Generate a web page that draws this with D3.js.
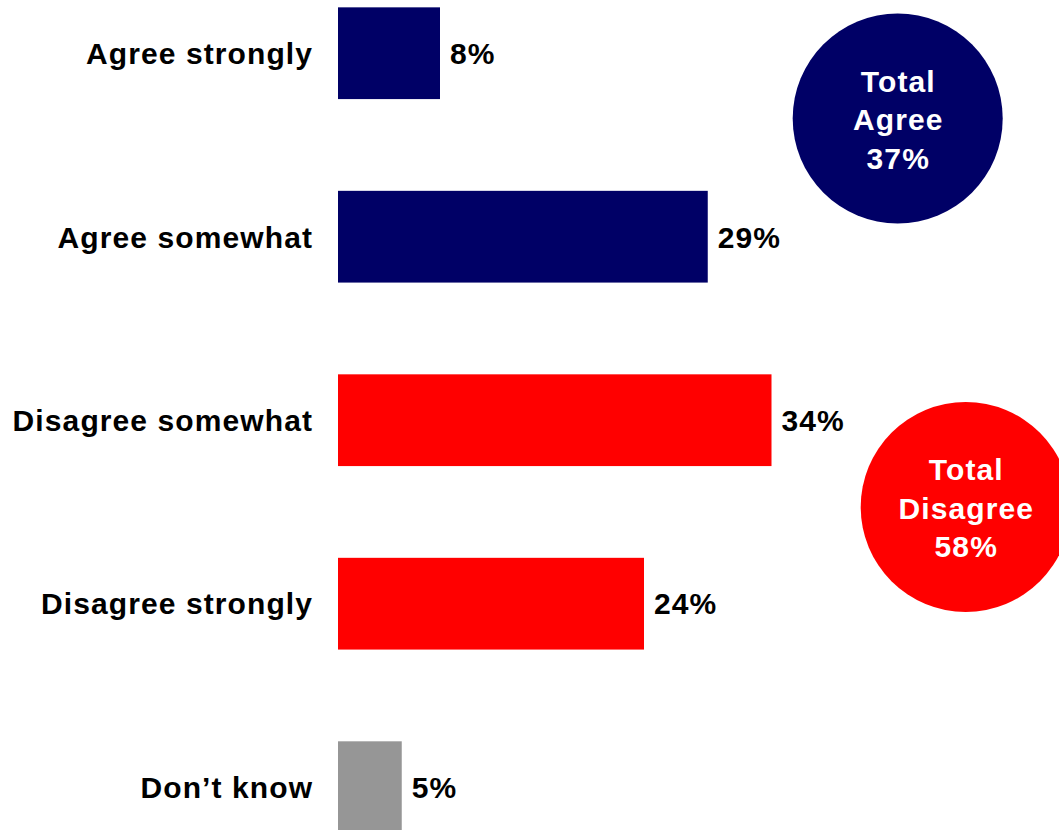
<!DOCTYPE html>
<html>
<head>
<meta charset="utf-8">
<script src="https://cdn.jsdelivr.net/npm/d3@7"></script>
<style>
  html, body { margin: 0; padding: 0; background: #ffffff; }
  svg { display: block; }
  text { font-family: "Liberation Sans", Arial, sans-serif; font-weight: bold; }
</style>
</head>
<body>
<script>
// ---- data ----
const categories = ["Agree strongly", "Agree somewhat", "Disagree somewhat", "Disagree strongly", "Don\u2019t know"];
const values = [8, 29, 34, 24, 5];
const groups = ["agree", "agree", "disagree", "disagree", "dontknow"];
const totalLabels = [["Total", "Agree"], ["Total", "Disagree"]];
const totalValues = [37, 58];
const totalGroups = ["agree", "disagree"];

// ---- layout ----
const W = 1059, H = 830;
const svg = d3.select("body").append("svg").attr("width", W).attr("height", H);

const color = d3.scaleOrdinal()
  .domain(["agree", "disagree", "dontknow"])
  .range(["#000066", "#ff0000", "#969696"]);

const x = d3.scaleLinear().domain([0, 100]).range([338, 338 + 1275]);
const y = d3.scaleBand().domain(categories).range([0, 840.4]).paddingInner(0.5).paddingOuter(0.04);

const data = categories.map((c, i) => ({ cat: c, v: values[i], g: groups[i] }));

const fontSize = 30, ls = 1.1;

// bars
svg.append("g").selectAll("rect").data(data).join("rect")
  .attr("x", x(0))
  .attr("y", d => y(d.cat))
  .attr("width", d => x(d.v) - x(0))
  .attr("height", y.bandwidth())
  .attr("fill", d => color(d.g));

// category labels
svg.append("g").selectAll("text").data(data).join("text")
  .attr("x", 312 + ls)
  .attr("y", d => y(d.cat) + y.bandwidth() / 2 + 10.8)
  .attr("text-anchor", "end")
  .attr("font-size", fontSize)
  .attr("letter-spacing", ls)
  .attr("fill", "#000")
  .text(d => d.cat);

// value labels
svg.append("g").selectAll("text").data(data).join("text")
  .attr("x", d => x(d.v) + 10)
  .attr("y", d => y(d.cat) + y.bandwidth() / 2 + 10.8)
  .attr("font-size", fontSize)
  .attr("letter-spacing", ls)
  .attr("fill", "#000")
  .text(d => d.v + "%");

// total circles
const circlePos = [{ cx: 897.7, cy: 118.5 }, { cx: 965.7, cy: 507 }];
const R = 105;
const totals = totalValues.map((v, i) => ({ lines: totalLabels[i].concat([v + "%"]), g: totalGroups[i], ...circlePos[i] }));

const tg = svg.append("g").selectAll("g").data(totals).join("g")
  .attr("transform", d => `translate(${d.cx},${d.cy})`);
tg.append("circle").attr("r", R).attr("fill", d => color(d.g));
tg.each(function(d) {
  const g = d3.select(this);
  d.lines.forEach((line, j) => {
    g.append("text")
      .attr("x", ls / 2)
      .attr("y", 11.5 + (j - 1) * 38.5)
      .attr("text-anchor", "middle")
      .attr("font-size", fontSize)
      .attr("letter-spacing", ls)
      .attr("fill", "#fff")
      .text(line);
  });
});
</script>
</body>
</html>
